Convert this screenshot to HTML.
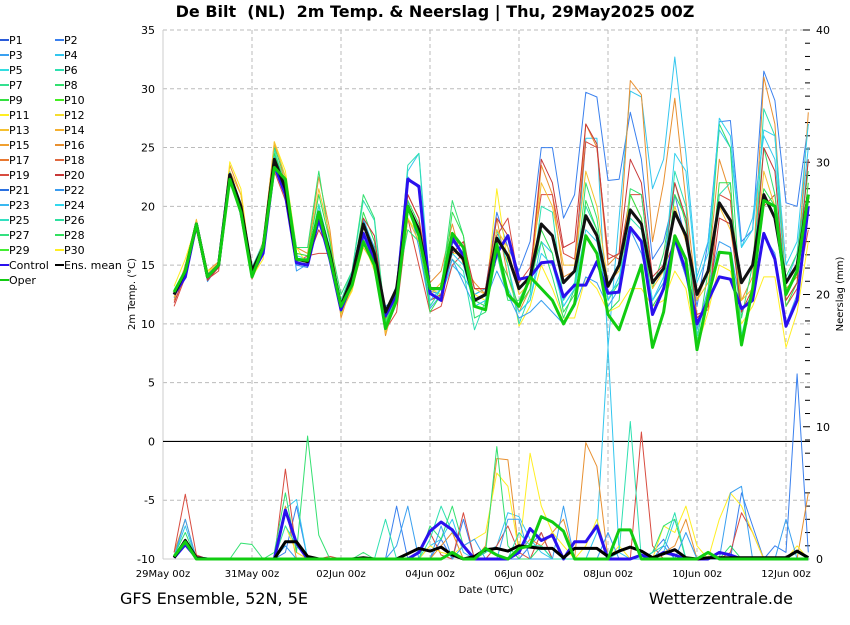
<!DOCTYPE html>
<html><head><meta charset="utf-8"><style>
body{margin:0;background:#fff;width:850px;height:620px;overflow:hidden;font-family:"Liberation Sans","DejaVu Sans",sans-serif}
svg text{font-family:"DejaVu Sans","Liberation Sans",sans-serif}
</style></head><body>
<svg id="chart" width="850" height="620" xmlns="http://www.w3.org/2000/svg">
<g id="grid"></g>
<g id="axes"></g>
<g id="series"></g>
<g id="legend"></g>
<text x="435" y="17" text-anchor="middle" font-size="16" font-weight="bold" style="white-space:pre">De Bilt  (NL)  2m Temp. &amp; Neerslag | Thu, 29May2025 00Z</text>
<text x="120" y="604" font-size="16">GFS Ensemble, 52N, 5E</text>
<text x="793" y="604" text-anchor="end" font-size="16">Wetterzentrale.de</text>
<text x="486" y="593" text-anchor="middle" font-size="10">Date (UTC)</text>
<text transform="translate(135,294) rotate(-90)" text-anchor="middle" font-size="10">2m Temp. (°C)</text>
<text transform="translate(843,294) rotate(-90)" text-anchor="middle" font-size="10">Neerslag (mm)</text>
</svg>
<script>
const xLabels=["29May 00z","31May 00z","02Jun 00z","04Jun 00z","06Jun 00z","08Jun 00z","10Jun 00z","12Jun 00z"];
const tempTicks=[35,30,25,20,15,10,5,0,-5,-10];
const precTicks=[40,30,20,10,0];
const meanT=[12.5,14.5,18.5,14,15,22.7,20,14.5,16.5,24,21.5,15.5,15.3,19.5,16,11.5,14,18.5,16,11,13,20,18,13,13,16.5,15.5,12,12.5,17.3,15.8,13,14,18.5,17.5,13.5,14.5,19.2,17.5,13.2,15,19.7,18.5,13.5,14.7,19.5,17.5,12.5,14.5,20.3,18.8,13.5,15,21,19,13.5,15,21];
const controlT=[12.5,14,18.5,14,15,22.7,19.5,14.3,16,23.5,21,15.2,15,19,15.5,11.2,13.5,17.7,15.5,10.7,12.5,22.3,21.7,12.6,12,17.3,15.8,12,12.5,16,17.5,13.8,14,15.2,15.3,12.3,13.3,13.3,15.3,12.6,12.7,18.2,17,10.8,13,17.3,14.5,10,12,14,13.8,11.3,12,17.7,15.5,9.8,12,20];
const operT=[12.7,14.5,18.5,14,15,22.3,19.5,14,16.5,23.3,22.3,15.5,15.4,19.5,15.7,11.5,13.3,17,15,9.6,12,20,17.5,13,13,17.7,16.5,11.5,11.2,16.8,12.5,11.5,14,13,12,10,11.7,17.5,16,10.8,9.5,12.3,15,8,11,17.5,15.5,7.8,12.3,16.1,16,8.2,13,20.5,20,12.5,14.5,21];
const meanP=[0.1,1.4,0.1,0,0,0,0,0,0,0,1.3,1.3,0.2,0,0,0,0,0.1,0,0,0,0.4,0.8,0.6,0.9,0.3,0,0.2,0.7,0.8,0.6,1,0.9,0.8,0.8,0.1,0.8,0.8,0.8,0.2,0.6,0.9,0.6,0.1,0.4,0.7,0.1,0,0.1,0.1,0.1,0.1,0.1,0.1,0.1,0.1,0.6,0.1];
const controlP=[0.1,1.1,0.1,0,0,0,0,0,0,0,3.7,1.2,0,0,0,0,0,0,0,0,0,0,0.5,2.1,2.8,2.2,1,0,0,0,0,0.5,2.3,1.4,1.8,0,1.3,1.3,2.5,0,0,0,0.3,0,0.5,0.3,0,0,0,0.5,0.3,0,0,0,0,0,0,0];
const operP=[0.2,1.3,0,0,0,0,0,0,0,0,0,0,0,0,0,0,0,0,0,0,0,0,0,0,0,0.5,0,0,0.8,0.3,0,0.8,1,3.2,2.8,2.1,0,0,0,0,2.2,2.2,0,0,0,0,0,0,0.5,0,0,0,0,0,0,0,0,0];
const memNames=["P2","P4","P16","P19","P11","P8","P6","P23","P13","P28","P20","P24"];
const memColors=["#3a80ee","#33c6ee","#e89030","#d84c40","#ffee22","#33e070","#2ee0b0","#3aa0f0","#f5c030","#33e050","#c83838","#33d0ee"];
const memT0=[12.8,14.2,18.3,13.8,15.2,22.3,19.5,14.8,16.2,23.5,21,15,14.8,19,15.5,11.3,13.5,18.8,16.5,11.3,12.5,22.5,21.5,12.8,12.5,17,16,12.5,13,19.5,16.5,14.5,17,25,25,19,21,29.7,29.3,22.2,22.3,28,24,15.5,17,21,17,11.5,17,27.2,27.3,17,18,31.5,29,20.3,20,27];
const memT1=[12.2,14.8,18.7,14.2,14.8,22.8,20.3,14.2,16.8,24.3,21.8,15.8,15.5,20,16.5,11.8,14.3,19,16.3,10.8,13.3,23,24.5,13,12.5,15,14,12.5,13,18,15,11,12,17,16,11.5,13,25.8,25.8,8,19,29.8,29.3,21.5,24,32.7,24.5,14,17,26.5,25,16.5,19,26,24,13.5,16,25];
const memT2=[12,15,18.8,14.5,15.3,23.5,21,14.5,17,25.3,22,16.5,16,22.5,18,10.5,13.5,17,15.5,9,12.5,21,19,13.5,14.5,18.5,15,13.5,12.5,19,14,11,13,23.5,21,14,14.5,27,25,15,16,30.7,29.5,17,22,29.2,20.5,12,14.5,24,21,12,14,31,27,13,14,28];
const memT3=[11.5,14,18.5,13.8,14.5,22,19.8,13.8,16,23,20.5,15.2,15.8,16,16,12,13.8,17.5,15.5,9.5,11,19,15,11,11.5,15,16,13,13,17.5,19,13.5,14.8,21,21,16,15.5,25.5,25,16,15.5,21,21,13.5,14.8,17,14,10.8,11.2,21,20.5,11,12.5,20,21,11.5,13,18];
const memT4=[13.2,15.5,18.5,14.5,15,23.8,21.5,14,15.5,25.5,23,16.5,15,19,15.5,11,12.8,17,14.5,10,11.8,19,17.5,13,12.5,16,16,12.5,12,21.5,15,9.8,11.5,15,13,10.5,10.5,14,13,11,11.5,13,13,11.5,12,14.5,13,8,11,15,14.5,10,11.5,14,14,8,11,17];
const memT5=[12.8,14.6,18.6,14.1,15.1,22.5,19.5,14.3,16.7,25,22.5,16.5,16.5,23,17,12.5,14.5,21,19,10.3,13,18,17,11.5,13,20.5,17.5,10.5,11,16,12,12,14,17,14,10.5,13,22,19,12,13.5,21.5,21,13,16,22,18.5,8.5,14.5,27,25,10.5,15,25,21,14,16,23];
const memT6=[12.5,14.3,18.3,14,15.1,22.6,20.2,14.8,16.9,24.8,21.8,15.3,15.5,20.2,16.3,12,14.5,20.5,18.8,9.8,12.5,23.5,24.5,11.5,13,15.5,14.5,9.5,12,18,15,10,12.5,20,19.5,12,13.5,20,18,12.5,13.5,19,18,12,13.5,23,20,9,13,21,22,9,13,28.3,26,12.5,14.5,24];
const memT7=[12.6,14.5,18.4,13.6,15,22.4,19.7,14.1,16.4,23.8,21.3,14.5,15.1,18.5,16,11.4,13.2,17.2,15,11.5,12.2,20.5,16.5,11.3,12.5,15.5,13.5,11.5,12,14.5,12.5,10.5,11,12,11,10,11.5,14,13.5,11.5,13,18,16,12,13.5,17,14,9.5,13,17,16.5,11,12.5,17.5,16,10,12.5,20];
const memT8=[12.3,14.9,18.9,14.3,15.2,23,21,14.5,16.8,25.5,22.5,16,15.8,21.5,17.5,10.8,13,16.5,15,9.2,12.3,19,17,12.5,13.5,17.5,16.5,13,12.5,18,16.5,12.5,13.5,22,20,15,15,23,20,13.5,14.5,21,19,13,14.5,20,17,12,13.5,20,18,12,13,23,20,12,13.5,22];
const memT9=[12.7,14.4,18.2,14,15,22.4,20,14.6,16.5,24.5,21.7,16,15.8,21,17,11,13.8,19.5,17,10,12.8,20.5,18.5,11,12.5,19.5,17.5,12,11.5,16,14,11.5,13,18,16,11,12.5,20.5,18,11,12,21,19,11.5,13,21,19,8,12.5,22,22,8.5,12.5,21.5,20,11.5,13.5,22];
const memT10=[11.8,14.2,18,13.7,14.8,22.2,19.7,14,16.2,23.7,21.2,15.5,15.5,18,16.2,11.5,14,19,17.5,10.5,12.8,21,19,12,12.5,16,17,13,13,19,17.5,13,14,24,22,16.5,17,27,25.3,15.5,16,24,22,14,15,22,19,10.5,11.5,19,18.5,11,13,25,23,12,13.5,24];
const memT11=[12.9,14.6,18.6,14.2,15.1,22.9,20.2,14.5,16.7,24.2,21.6,15.6,15.4,19.6,16.1,11.6,14.1,18.6,16.1,11.1,13.1,20,18,12,13,16,15,11.5,12,16,13,11,12,16,15,11.5,13,18,17,12,14,18,17,12,14,24.5,23,13.5,16,27.5,26,16.5,18,26.5,26,15,17,27];
const memP0=[0.2,1,0,0,0,0,0,0,0,0,0.5,4,0,0,0,0,0,0,0,0,4,0,0,0,1.5,0,3,0,0,0,0,0,1,2,0,0,0,0,0,0,0,0,0,0.5,1.5,0,0,0,0,0,0,5,2.5,0,1,0.5,14,0.5];
const memP1=[0.2,2.5,0,0,0,0,0,0,0,0,3.8,4.5,0,0,0,0,0,0,0,0,0,0,0,1,1.5,3,0.5,0,0.5,1,3.5,3.2,1.5,0.5,0,0,0,0,2,16,0.5,0,0,0,0.5,3,0,0,0,0,0,0,0,0,0,0,0,0];
const memP2=[0.5,3,0,0,0,0,0,0,0,0,4,0,0,0,0,0,0,0,0,0,0,0,0,0,1,2,0,0,1,7.6,7.5,0.5,1.5,1,2,3,0,8.8,7,0,0,0,0,0,0.5,1,3,0,0,0,0,0,0,0,0,0,0,5];
const memP3=[0.5,4.9,0.3,0,0,0,0,0,0,0,6.8,0.5,0,0,0.2,0,0,0,0,0,0,0,0.5,2,0.3,0,3.5,0,0,1,2.5,0.5,0,2,0,0,0,0,0,0,0,0,9.6,1,0,0,0,0,0,0,0.5,3.5,2,0,0,0,0,0];
const memP4=[0.2,1.5,0,0,0,0,0,0,0,0,2.5,0.5,0,0,0,0,0,0,0,0,0,0,0,1,0.5,0.3,1,1.5,2,6.5,5.5,0.5,8,4,2,1,0,1,3,0,1,0,0,0,2.5,2,4,1,0,3,5,4,2,0,0,0,1,0];
const memP5=[0.3,2,0,0,0,0,1.2,1.1,0,0.5,5,0.5,9.3,1.8,0,0,0,0.5,0,0,0,0,0,2.5,1.5,4,1,0,0.5,8.5,1,0,0,1,0,0,0,0,0,0,0,0,0,0.5,2.5,3,0,0,0,0,1,0,0,0,0,0,0.5,0];
const memP6=[0.3,1.5,0,0,0,0,0,0,0,0,2.5,1,0,0,0,0,0,0,0,3,0,0,0,1.5,4,2,1,0,0,0,0,2,1,1,0,0,0,0,0,0,0.5,10.4,0,0.5,1,3.5,0,0,0,0,0,0,0,0,0,0,0,0];
const memP7=[0.2,3,0,0,0,0,0,0,0,0,1,0,0,0,0,0,0,0,0,0,1,4,0,0,2.5,0,1,1.5,0,0,3,3,0,0,0,4,0,0,0,2,0,0,0,0,1,0,2,0,0,0,5,5.5,0,0,0,3,0,0];
const memT=[memT0,memT1,memT2,memT3,memT4,memT5,memT6,memT7,memT8,memT9,memT10,memT11];
const memP=[memP0,memP1,memP2,memP3,memP4,memP5,memP6,memP7];
const legNames=["P1","P2","P3","P4","P5","P6","P7","P8","P9","P10","P11","P12","P13","P14","P15","P16","P17","P18","P19","P20","P21","P22","P23","P24","P25","P26","P27","P28","P29","P30","Control","Ens. mean","Oper"];
const legColors=["#2a5bd8","#3a80ee","#3aa0f0","#33c6ee","#33dde0","#2ee0b0","#33e090","#33e070","#33e040","#44ee22","#ffee22","#f5dd30","#f5c030","#f5b030","#f0a030","#e89030","#e87830","#e06840","#d84c40","#c83838","#2a70e0","#3a9cf0","#3ab8f0","#33d8ee","#33e0c0","#2ee0a0","#33e080","#33e060","#44ee33","#ffee22","#2a10ee","#000","#11cc11"];

const NS="http://www.w3.org/2000/svg";
const X0=163,X1=810,YT=30,YB=559,dayPx=44.5;
const xAt=i=>X0+(i+1)*dayPx/4;
const yT=t=>YB-(t+10)*(YB-YT)/45;
const yP=p=>YB-p*(YB-YT)/40;
function mk(tag,attrs,parent){const e=document.createElementNS(NS,tag);for(const k in attrs)e.setAttribute(k,attrs[k]);parent.appendChild(e);return e;}
const grid=document.getElementById('grid'),axes=document.getElementById('axes'),ser=document.getElementById('series'),leg=document.getElementById('legend');
tempTicks.forEach(t=>{
  if(t!==0&&t!==-10){const l=mk('line',{x1:X0,x2:X1,y1:yT(t),y2:yT(t),stroke:'#bbb','stroke-dasharray':'4,3'},grid);
  
  }
  const tx=mk('text',{x:155,y:yT(t)+4,'text-anchor':'end','font-size':11},axes);tx.textContent=t;
  
  
});
xLabels.forEach((s,k)=>{
  const x=X0+k*2*dayPx;
  if(k>0){const l=mk('line',{x1:x,x2:x,y1:YT,y2:YB,stroke:'#bbb','stroke-dasharray':'4,3'},grid);
  
  }
  const tx=mk('text',{x:x,y:577,'text-anchor':'middle','font-size':10},axes);tx.textContent=s;
  
  
});
precTicks.forEach(p=>{
  const tx=mk('text',{x:816,y:yP(p)+4,'font-size':11},axes);tx.textContent=p;
  
  
});
for(let p=0;p<=40;p++){const l=mk('line',{x1:p%10===0?803:805,x2:810,y1:yP(p),y2:yP(p),stroke:'#000'},axes);
  
  }
let a=mk('line',{x1:X0,x2:X0,y1:YT,y2:YB,stroke:'#ccc'},axes);


a=mk('line',{x1:X0,x2:X1,y1:YB,y2:YB,stroke:'#ccc'},axes);


a=mk('line',{x1:X0,x2:X1,y1:yT(0),y2:yT(0),stroke:'#000','stroke-width':1.2},axes);


function line(vals,fy,color,w,name){
  const d=vals.map((v,i)=>(i?'L':'M')+xAt(i).toFixed(1)+','+fy(v).toFixed(1)).join('');
  const p=mk('path',{d:d,fill:'none',stroke:color,'stroke-width':w,'stroke-linejoin':'round'},ser);
  
  
}
memP.forEach((v,k)=>line(v,yP,memColors[k],1,'precip-'+memNames[k].toLowerCase()));
memT.forEach((v,k)=>line(v,yT,memColors[k],1,'temp-'+memNames[k].toLowerCase()));
line(controlP,yP,'#2a10ee',3,'precip-control');
line(meanP,yP,'#000',3,'precip-ens-mean');
line(operP,yP,'#11cc11',3,'precip-oper');
line(controlT,yT,'#2a10ee',3,'temp-control');
line(meanT,yT,'#111',3,'temp-ens-mean');
line(operT,yT,'#11cc11',3,'temp-oper');
legNames.forEach((n,i)=>{
  const col=i<32?i%2:0,row=i<32?Math.floor(i/2):16;
  const x=col?55:0,y=40+row*15;
  const g=mk('g',{},leg);
  
  
  mk('line',{x1:x,x2:x+9,y1:y,y2:y,stroke:legColors[i],'stroke-width':2},g);
  const t=mk('text',{x:x+9,y:y+4,'font-size':11},g);t.textContent=n;
});
</script>
</body></html>
